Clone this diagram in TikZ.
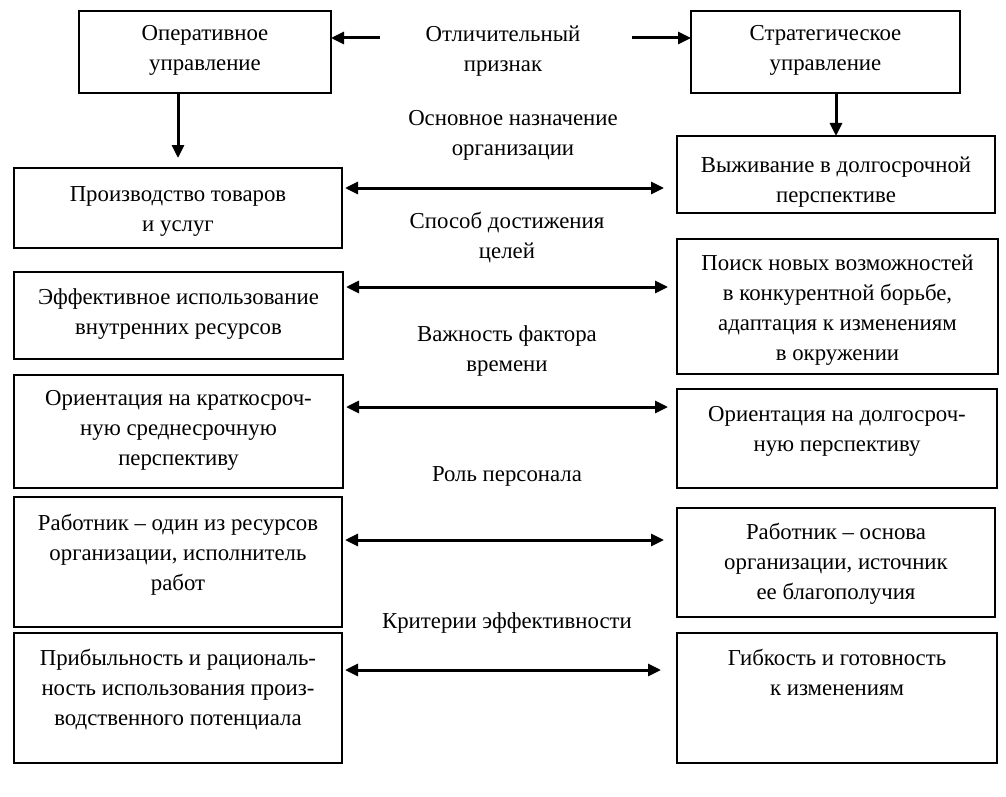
\documentclass[tikz,border=0pt]{standalone}
\usepackage{fontspec}
\setmainfont{Liberation Serif}
\usetikzlibrary{arrows.meta}
\newcommand{\bxt}[4]{\parbox[c][#2pt][t]{#1pt}{\centering\rule{0pt}{#3pt}#4}}
\newcommand{\lbt}[1]{\parbox[t]{320pt}{\centering\rule{0pt}{30pt}#1}}
\begin{document}
\begin{tikzpicture}[x=1pt,y=-1pt,
  txt/.style={font=\fontsize{22.8}{30}\selectfont},
  box/.style={txt, draw, line width=2.6pt, inner sep=0pt, outer sep=0pt},
  lab/.style={txt, inner sep=0pt, anchor=north},
  arr/.style={line width=3pt, -{Triangle[length=13pt,width=12pt]}},
  dar/.style={line width=3pt, {Triangle[length=13pt,width=12pt]}-{Triangle[length=13pt,width=12pt]}, shorten <=3pt}]
\useasboundingbox (0,0) rectangle (1006,797);
% boxes
\node[box] (L0) at (205,52)    {\bxt{252}{82}{30}{Оперативное\\управление}};
\node[box] (R0) at (825.5,52)  {\bxt{269}{82}{30}{Стратегическое\\управление}};
\node[box] (L1) at (178,208)   {\bxt{328}{80}{33}{Производство товаров\\и услуг}};
\node[box] (R1) at (836,174.5) {\bxt{318}{77}{36}{Выживание в долгосрочной\\перспективе}};
\node[box] (L2) at (178.5,315.5) {\bxt{329}{87}{32}{Эффективное использование\\внутренних ресурсов}};
\node[box] (R2) at (837.5,306.5) {\bxt{321}{135}{31}{Поиск новых возможностей\\в конкурентной борьбе,\\адаптация к изменениям\\в окружении}};
\node[box] (L3) at (178.5,431.5) {\bxt{329}{113}{30}{Ориентация на краткосроч-\\ную среднесрочную\\перспективу}};
\node[box] (R3) at (837,438.5)  {\bxt{320}{99}{32}{Ориентация на долгосроч-\\ную перспективу}};
\node[box] (L4) at (178,562)    {\bxt{328}{130}{33}{Работник – один из ресурсов\\организации, исполнитель\\работ}};
\node[box] (R4) at (836,562.5)  {\bxt{318}{109}{31}{Работник – основа\\организации, источник\\ее благополучия}};
\node[box] (L5) at (178,698)    {\bxt{328}{130}{32}{Прибыльность и рациональ-\\ность использования произ-\\водственного потенциала}};
\node[box] (R5) at (837,698)    {\bxt{320}{130}{32}{Гибкость и готовность\\к изменениям}};
% labels
\node[lab] (t0) at (503,11)  {\lbt{Отличительный\\признак}};
\node[lab] (t1) at (513,95)  {\lbt{Основное назначение\\организации}};
\node[lab] (t2) at (507,198) {\lbt{Способ достижения\\целей}};
\node[lab] (t3) at (507,311) {\lbt{Важность фактора\\времени}};
\node[lab] (t4) at (507,451) {\lbt{Роль персонала}};
\node[lab] (t5) at (507,598) {\lbt{Критерии эффективности}};
% top arrows
\coordinate (tl) at (380,38);
\coordinate (tr) at (632,38);
\draw[arr] (tl) -- (L0.east |- tl);
\draw[arr] (tr) -- (R0.west |- tr);
\draw[arr] (L1.north |- L0.south) -- ([yshift=10pt]L1.north);
\draw[arr] (R1.north |- R0.south) -- (R1.north);
% horizontal double arrows
\coordinate (h1) at (0,188);
\coordinate (h2) at (0,287);
\coordinate (h3) at (0,407);
\coordinate (h4) at (0,540);
\coordinate (h5) at (0,670);
\draw[dar, shorten >=13pt] (L1.east |- h1) -- (R1.west |- h1);
\draw[dar, shorten >=9pt]  (L2.east |- h2) -- (R2.west |- h2);
\draw[dar, shorten >=9pt]  (L3.east |- h3) -- (R3.west |- h3);
\draw[dar, shorten >=13pt] (L4.east |- h4) -- (R4.west |- h4);
\draw[dar, shorten >=16pt] (L5.east |- h5) -- (R5.west |- h5);
\end{tikzpicture}
\end{document}
